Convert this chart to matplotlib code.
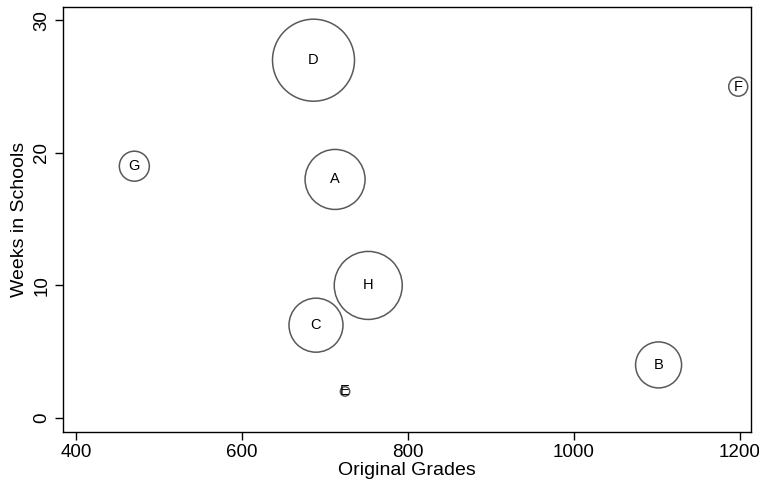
import numpy as np
import matplotlib.pyplot as plt

plt.rcParams['font.family'] = ['Liberation Sans', 'DejaVu Sans']

# -----------------------------
# Data
# -----------------------------
labels = ['A', 'B', 'C', 'D', 'E', 'F', 'G', 'H']
grades = [712, 1102, 689, 686, 724, 1198, 470, 752]   # Original Grades
weeks  = [18, 4, 7, 27, 2, 25, 19, 10]                 # Weeks in Schools
weight = [900, 529, 729, 1681, 22, 90, 225, 1156]      # bubble weight (area)

# -----------------------------
# Plot
# -----------------------------
fig = plt.figure(figsize=(7.59, 4.86), dpi=100)
ax = fig.add_axes([0.083, 0.112, 0.906, 0.874])

# area-proportional bubbles, weight in px^2 -> points^2
sizes = np.array(weight) * (2 * 0.72) ** 2
ax.scatter(grades, weeks, s=sizes, facecolors='none',
           edgecolors='#595959', linewidths=1.1, zorder=2)

for lab, x, y in zip(labels, grades, weeks):
    ax.text(x, y, lab, ha='center', va='center', fontsize=10.5, color='black', zorder=3)

ax.set_xlim(384, 1213)
ax.set_ylim(-1.03, 31.03)
ax.set_xticks([400, 600, 800, 1000, 1200])
ax.set_yticks([0, 10, 20, 30])
ax.tick_params(axis='both', direction='out', length=6, width=1, labelsize=13.5, pad=3)
for lbl in ax.get_yticklabels():
    lbl.set_rotation(90)
    lbl.set_va('center')

for sp in ax.spines.values():
    sp.set_linewidth(1)
    sp.set_color('black')

ax.set_xlabel('Original Grades', fontsize=14, labelpad=1)
ax.set_ylabel('Weeks in Schools', fontsize=14, labelpad=4)

fig.savefig('out.png', dpi=100)
